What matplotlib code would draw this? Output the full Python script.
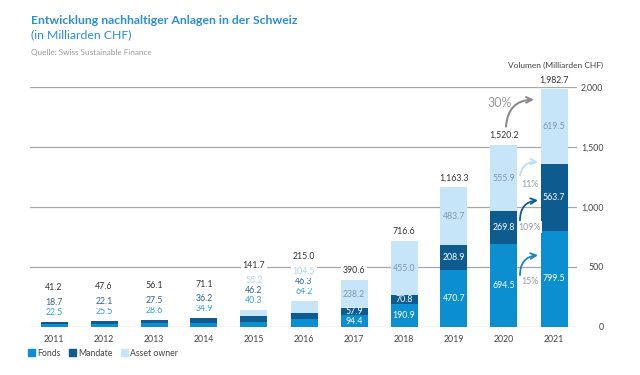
import matplotlib.pyplot as plt
from matplotlib.patches import Patch

plt.rcParams['font.family'] = ['Lato', 'DejaVu Sans']

# ─── Daten (Milliarden CHF) ──────────────────────────────────────────────────
jahre = ["2011", "2012", "2013", "2014", "2015", "2016",
         "2017", "2018", "2019", "2020", "2021"]
fonds = [22.5, 25.5, 28.6, 34.9, 40.3, 64.2, 94.4, 190.9, 470.7, 694.5, 799.5]
mandate = [18.7, 22.1, 27.5, 36.2, 46.2, 46.3, 57.9, 70.8, 208.9, 269.8, 563.7]
asset_owner = [0, 0, 0, 0, 55.2, 104.5, 238.2, 455.0, 483.7, 555.9, 619.5]
total = [41.2, 47.6, 56.1, 71.1, 141.7, 215.0, 390.6, 716.6, 1163.3, 1520.2, 1982.7]
y_ticks = [0, 500, 1000, 1500, 2000]

# Wachstum 2020 -> 2021
wachstum_total = "30%"
wachstum_fonds = "15%"
wachstum_mandate = "109%"
wachstum_asset = "11%"

# Farben
c_fonds = "#0b8fd0"
c_mandate = "#0d5b8f"
c_asset = "#c7e5f8"
c_grid = "#a8a8a8"
c_text = "#444444"

fig = plt.figure(figsize=(6.4, 3.75), dpi=100)
ax = fig.add_axes([30 / 640, (375 - 326.7) / 375, 547 / 640, (326.7 - 87.3) / 375])

x = list(range(len(jahre)))
breite = 0.54
bottom_asset = [f + m for f, m in zip(fonds, mandate)]

ax.bar(x, fonds, breite, color=c_fonds, zorder=2)
ax.bar(x, mandate, breite, bottom=fonds, color=c_mandate, zorder=2)
ax.bar(x, asset_owner, breite, bottom=bottom_asset, color=c_asset, zorder=2)

ax.set_xlim(-0.48, 10.46)
ax.set_ylim(0, 2000)
ax.set_yticks(y_ticks)
ax.set_yticklabels([f"{v:,.0f}" for v in y_ticks])
ax.yaxis.tick_right()
ax.tick_params(axis="y", length=0, pad=19, labelsize=6.3, labelcolor=c_text)
for lbl in ax.get_yticklabels():
    lbl.set_ha("right")
ax.set_xticks(x)
ax.set_xticklabels(jahre)
ax.tick_params(axis="x", length=0, pad=6, labelsize=6.3, labelcolor=c_text)
ax.yaxis.grid(True, color=c_grid, lw=0.9)
ax.set_axisbelow(True)
for s in ax.spines.values():
    s.set_visible(False)

weiss = dict(fc="white", ec="none", pad=1.2)

# ─── Beschriftungen ─────────────────────────────────────────────────────────
for i in x:
    if total[i] < 300:
        # kleine Balken: Werte über dem Balken gestapelt
        segs = [(fonds[i], "#3a9fd8"), (mandate[i], "#36628a"),
                (asset_owner[i], "#a9d5f2")]
        off = 6.9
        for val, col in segs:
            if val == 0:
                continue
            ax.annotate(f"{val:.1f}", (i, total[i]), xytext=(0, off),
                        textcoords="offset points", ha="center", va="center",
                        fontsize=6.3, color=col, bbox=weiss, zorder=4)
            off += 7.2
        ax.annotate(f"{total[i]:,.1f}", (i, total[i]), xytext=(0, off + 3.2),
                    textcoords="offset points", ha="center", va="center",
                    fontsize=6.3, color="#333333", bbox=weiss, zorder=4)
    else:
        ax.text(i, fonds[i] / 2, f"{fonds[i]:.1f}", ha="center", va="center",
                fontsize=6.3, color="white", zorder=4)
        ax.text(i, fonds[i] + mandate[i] / 2, f"{mandate[i]:.1f}", ha="center",
                va="center", fontsize=6.3, color="white", zorder=4)
        ax.text(i, bottom_asset[i] + asset_owner[i] / 2, f"{asset_owner[i]:.1f}",
                ha="center", va="center", fontsize=6.3, color="#7f95a9", zorder=4)
        ax.annotate(f"{total[i]:,.1f}", (i, total[i]), xytext=(0, 6.8),
                    textcoords="offset points", ha="center", va="center",
                    fontsize=6.3, color="#333333", bbox=weiss, zorder=4,
                    annotation_clip=False)

# ─── Wachstumspfeile 2020 -> 2021 ────────────────────────────────────────────
def pfeil(start, ende, farbe, lw=1.3):
    ax.annotate("", xy=ende, xytext=start,
                arrowprops=dict(arrowstyle="->", color=farbe, lw=lw,
                                connectionstyle="arc3,rad=-0.45",
                                shrinkA=0, shrinkB=0),
                zorder=5, annotation_clip=False)

pfeil((9.04, 1672), (9.6, 1897), "#8c8c8c", lw=1.5)
ax.text(8.92, 1872, wachstum_total, ha="center", va="center",
        fontsize=9, color="#9a9a9a")

pfeil((9.32, 1264), (9.68, 1373), "#bde0f6")
ax.text(9.51, 1189, wachstum_asset, ha="center", va="center",
        fontsize=6.3, color="#9a9a9a")
pfeil((9.32, 889), (9.68, 1056), c_mandate)
ax.text(9.51, 831, wachstum_mandate, ha="center", va="center",
        fontsize=6.3, color="#9a9a9a", bbox=weiss)
pfeil((9.32, 431), (9.68, 597), "#1784c4")
ax.text(9.51, 381, wachstum_fonds, ha="center", va="center",
        fontsize=6.3, color="#9a9a9a")

# ─── Titel, Quelle, Achsentitel ─────────────────────────────────────────────
fig.text(31 / 640, 1 - 21 / 375, "Entwicklung nachhaltiger Anlagen in der Schweiz",
         ha="left", va="center", fontsize=8.8, fontweight="bold", color="#2b8fd0")
fig.text(31 / 640, 1 - 35 / 375, "(in Milliarden CHF)", ha="left", va="center",
         fontsize=8.8, color="#2b8fd0")
fig.text(31 / 640, 1 - 52 / 375, "Quelle: Swiss Sustainable Finance", ha="left",
         va="center", fontsize=5.9, color="#9a9a9a")
fig.text(603 / 640, 1 - 65 / 375, "Volumen (Milliarden CHF)", ha="right",
         va="center", fontsize=6.0, color=c_text)

# Legende
handles = [Patch(color=c_fonds), Patch(color=c_mandate), Patch(color=c_asset)]
fig.legend(handles, ["Fonds", "Mandate", "Asset owner"], loc="center left",
           bbox_to_anchor=(28 / 640, 1 - 353 / 375), ncol=3, frameon=False,
           fontsize=6.3, handlelength=0.8, handleheight=0.8, handletextpad=0.3,
           columnspacing=0.9, borderaxespad=0, borderpad=0, labelcolor=c_text)

plt.savefig("out.png", dpi=100)
